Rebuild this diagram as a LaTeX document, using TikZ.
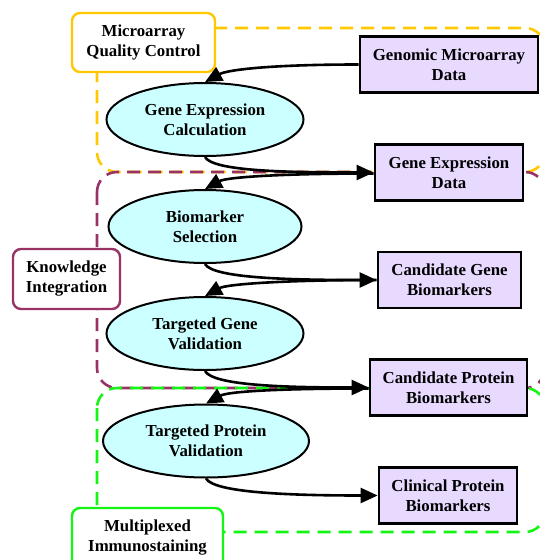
\documentclass[tikz,border=0pt]{standalone}
\usepackage{fontspec}
\setmainfont{Liberation Serif}
\usetikzlibrary{arrows.meta,shapes.geometric}
\definecolor{qcyellow}{RGB}{255,200,0}
\definecolor{kimaroon}{RGB}{153,51,102}
\definecolor{mxgreen}{RGB}{20,245,20}
\definecolor{procfill}{RGB}{204,255,255}
\definecolor{datafill}{RGB}{232,217,255}
\tikzset{
  region/.style={line width=2.6pt, dash pattern=on 13pt off 8pt, rounded corners=20pt},
  lbl/.style={line width=2.4pt, fill=white, rounded corners=8pt, align=center, minimum height=59pt, inner sep=0pt},
  proc/.style={ellipse, draw, line width=2pt, fill=procfill, align=center, minimum height=73pt, inner sep=0pt},
  datanode/.style={rectangle, draw, line width=2.8pt, fill=datafill, align=center, minimum height=56pt, inner sep=0pt},
  edge/.style={line width=2.6pt, -{Triangle[length=17pt,width=15pt]}}
}
\begin{document}
\begin{tikzpicture}[x=1pt,y=-1pt, font=\fontsize{16.8}{20}\selectfont\bfseries]
\useasboundingbox (0,0) rectangle (540,560);
% regions
\draw[region, qcyellow] (97,28) rectangle (545,172);
\draw[region, kimaroon] (97,172) rectangle (545,388);
\draw[region, mxgreen] (97,388) rectangle (545,532);
% label boxes
\node[lbl, draw=qcyellow, minimum width=143pt] (qc) at (143.5,42.5) {Microarray\\Quality Control};
\node[lbl, draw=kimaroon, minimum width=107pt, minimum height=60pt] (ki) at (66.5,279) {Knowledge\\Integration};
\node[lbl, draw=mxgreen, minimum width=151pt, minimum height=60pt] (mi) at (147.5,538) {Multiplexed\\Immunostaining};
% process ellipses
\node[proc, minimum width=197pt] (gec) at (205,119.5) {Gene Expression\\Calculation};
\node[proc, minimum width=193pt] (bs) at (205,226.5) {Biomarker\\Selection};
\node[proc, minimum width=197pt] (tgv) at (205,333.5) {Targeted Gene\\Validation};
\node[proc, minimum width=206pt] (tpv) at (206,441) {Targeted Protein\\Validation};
% data boxes
\node[datanode, minimum width=178pt] (gmd) at (449,64.5) {Genomic Microarray\\Data};
\node[datanode, minimum width=148pt] (ged) at (449,172.5) {Gene Expression\\Data};
\node[datanode, minimum width=143pt] (cgb) at (449.5,280) {Candidate Gene\\Biomarkers};
\node[datanode, minimum width=157pt] (cpb) at (448.5,387.5) {Candidate Protein\\Biomarkers};
\node[datanode, minimum width=138pt] (clp) at (448,495.5) {Clinical Protein\\Biomarkers};
% edges
\draw[edge] (gmd.west) .. controls +(-90,0) and +(22,-12) .. (gec.north);
\draw[edge] (gec.south) .. controls +(8,14) and +(-90,0) .. (ged.west);
\draw[edge] ([yshift=-1pt]ged.west) .. controls +(-90,0) and +(22,-12) .. (bs.north);
\draw[edge] (bs.south) .. controls +(8,14) and +(-90,0) .. (cgb.west);
\draw[edge] (cgb.west) .. controls +(-90,0) and +(22,-12) .. (tgv.north);
\draw[edge] (tgv.south) .. controls +(8,14) and +(-90,0) .. (cpb.west);
\draw[edge] ([yshift=-1pt]cpb.west) .. controls +(-90,0) and +(22,-12) .. (tpv.north);
\draw[edge] (tpv.south) .. controls +(8,14) and +(-90,0) .. (clp.west);
\end{tikzpicture}
\end{document}
